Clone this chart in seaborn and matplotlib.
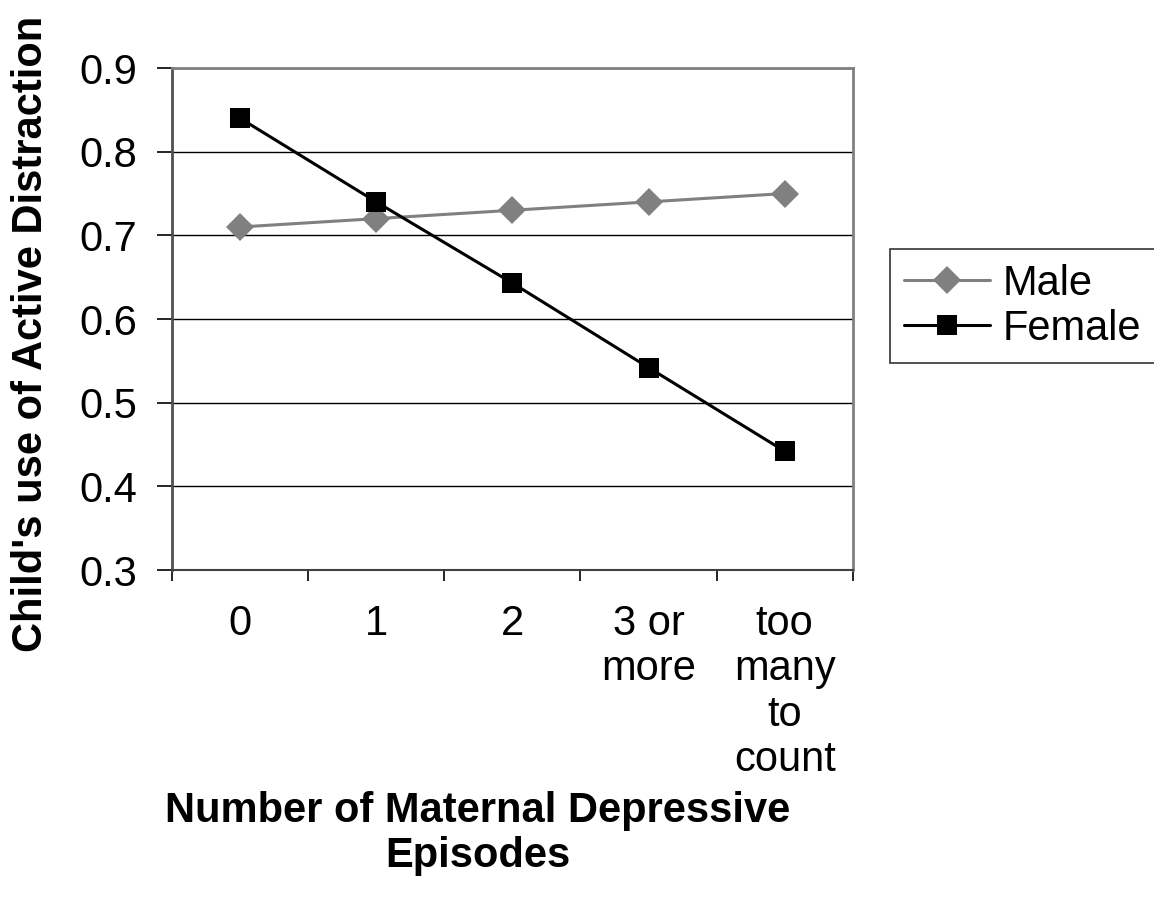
import pandas as pd
import seaborn as sns
import matplotlib.pyplot as plt

# Child's use of active distraction by number of maternal depressive episodes
categories = ["0", "1", "2", "3 or\nmore", "too\nmany\nto\ncount"]
male = [0.71, 0.72, 0.73, 0.74, 0.75]
female = [0.84, 0.74, 0.643, 0.542, 0.442]

df = pd.DataFrame({
    "Episodes": categories * 2,
    "Value": male + female,
    "Sex": ["Male"] * 5 + ["Female"] * 5,
})
df["pos"] = list(range(5)) * 2

sns.set_style("white")
plt.rcParams['font.family'] = ['Liberation Sans', 'DejaVu Sans']
plt.rcParams['text.color'] = 'black'
plt.rcParams['xtick.color'] = 'black'
plt.rcParams['ytick.color'] = 'black'
plt.rcParams['axes.labelcolor'] = 'black'

fig = plt.figure(figsize=(11.54, 9.02), dpi=100)
ax = fig.add_axes([0.149, 0.368, 0.590, 0.5566])

sns.lineplot(data=df, x="pos", y="Value", hue="Sex", style="Sex",
             palette={"Male": "#808080", "Female": "black"},
             markers={"Male": "D", "Female": "s"}, dashes=False,
             markersize=14, linewidth=2.2, markeredgewidth=0, ax=ax)

ax.set_ylim(0.3, 0.9)
ax.set_xlim(-0.5, 4.5)
ax.set_yticks([0.3, 0.4, 0.5, 0.6, 0.7, 0.8, 0.9])
ax.set_yticklabels(["0.3", "0.4", "0.5", "0.6", "0.7", "0.8", "0.9"])
ax.yaxis.grid(True, color="black", linewidth=1)
ax.set_axisbelow(True)

ax.set_xticks(range(5))
ax.set_xticklabels(categories, linespacing=1.17)
ax.set_xticks([-0.5, 0.5, 1.5, 2.5, 3.5, 4.5], minor=True)
ax.tick_params(axis="x", which="major", length=0, pad=24.5, labelsize=30)
ax.tick_params(axis="x", which="minor", length=8, width=1.2, color="black", direction="out")
ax.tick_params(axis="y", length=11, width=1.2, color="black", direction="out", pad=14, labelsize=30)
ax.tick_params(bottom=True, left=True, which="both")

for s in ["top", "right"]:
    ax.spines[s].set_color("#808080")
    ax.spines[s].set_linewidth(2)
ax.spines["left"].set_color("#505050")
ax.spines["left"].set_linewidth(2)
ax.spines["bottom"].set_color("#404040")
ax.spines["bottom"].set_linewidth(1.5)

ax.set_xlabel("Number of Maternal Depressive\nEpisodes", fontsize=30, fontweight="bold", linespacing=1.15)
ax.xaxis.set_label_coords(0.449, -0.440)
ax.set_ylabel("Child's use of Active Distraction", fontsize=30, fontweight="bold")
ax.yaxis.set_label_coords(-0.178, 0.47)

handles, labels = ax.get_legend_handles_labels()
leg = ax.legend(handles, labels, loc="upper left", bbox_to_anchor=(0.771, 0.724),
                bbox_transform=fig.transFigure, fontsize=30, frameon=True,
                fancybox=False, edgecolor="black", handlelength=2.05,
                handletextpad=0.3, borderpad=0.35, labelspacing=0.12, borderaxespad=0)
leg.get_frame().set_linewidth(1.2)

plt.savefig("out.png", dpi=100)
